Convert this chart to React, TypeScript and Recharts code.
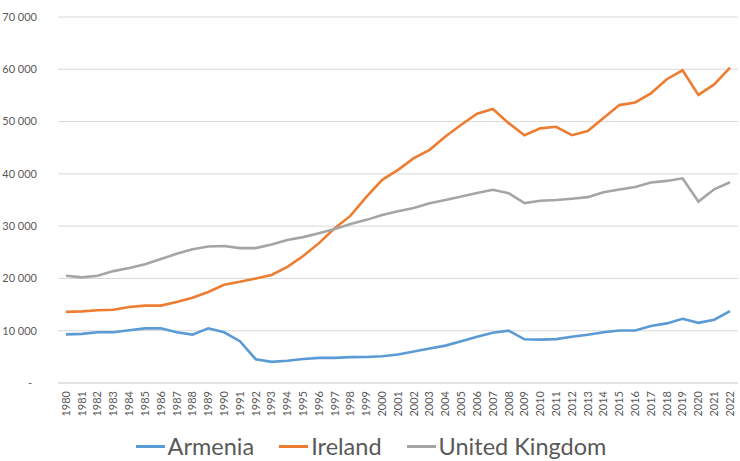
import * as React from "react";
import { CartesianGrid, Legend, Line, LineChart, XAxis, YAxis } from "recharts";

const years = [
  "1980", "1981", "1982", "1983", "1984", "1985", "1986", "1987", "1988", "1989",
  "1990", "1991", "1992", "1993", "1994", "1995", "1996", "1997", "1998", "1999",
  "2000", "2001", "2002", "2003", "2004", "2005", "2006", "2007", "2008", "2009",
  "2010", "2011", "2012", "2013", "2014", "2015", "2016", "2017", "2018", "2019",
  "2020", "2021", "2022",
];

const armenia = [
  9300, 9400, 9700, 9700, 10100, 10450, 10450, 9700, 9250, 10450,
  9700, 8000, 4550, 4050, 4250, 4600, 4800, 4800, 4950, 4970,
  5130, 5440, 6010, 6580, 7150, 7980, 8860, 9620, 10000, 8360,
  8300, 8400, 8860, 9230, 9700, 10050, 10050, 10900, 11400, 12280,
  11500, 12100, 13750,
];

const ireland = [
  13600, 13700, 13900, 14000, 14550, 14800, 14800, 15500, 16300, 17400,
  18800, 19350, 20000, 20650, 22200, 24300, 26750, 29600, 32000, 35600,
  38850, 40760, 43000, 44600, 47150, 49400, 51500, 52400, 49700, 47400,
  48700, 49000, 47400, 48200, 50700, 53150, 53650, 55400, 58100, 59800,
  55100, 57100, 60300,
];

const unitedKingdom = [
  20500, 20200, 20500, 21400, 22000, 22700, 23700, 24700, 25600, 26100,
  26200, 25800, 25800, 26500, 27350, 27900, 28650, 29450, 30400, 31200,
  32150, 32850, 33450, 34400, 35000, 35650, 36350, 36950, 36300, 34400,
  34850, 35000, 35250, 35550, 36500, 37000, 37500, 38350, 38650, 39150,
  34700, 37050, 38400,
];

const yTicks = [0, 10000, 20000, 30000, 40000, 50000, 60000, 70000];

const data = years.map((year, i) => ({
  year,
  Armenia: armenia[i],
  Ireland: ireland[i],
  "United Kingdom": unitedKingdom[i],
}));

const FONT = "Lato, 'Liberation Sans', sans-serif";
const TEXT = "#595959";

function YTick({ x, y, payload }: any) {
  const v = payload.value as number;
  if (v === 0) {
    return (
      <text x={x - 5} y={y} dy="0.35em" textAnchor="end" fill={TEXT} fontSize={11} fontFamily={FONT}>
        -
      </text>
    );
  }
  const label = `${Math.floor(v / 1000)} 000`;
  return (
    <text x={x} y={y} dy="0.35em" textAnchor="end" fill={TEXT} fontSize={11} fontFamily={FONT}>
      {label}
    </text>
  );
}

function XTick({ x, y, payload }: any) {
  return (
    <text
      x={x}
      y={y}
      transform={`rotate(-90, ${x}, ${y})`}
      textAnchor="end"
      dy="0.35em"
      fill={TEXT}
      fontSize={11}
      fontFamily={FONT}
    >
      {payload.value}
    </text>
  );
}

function LegendContent({ payload }: any) {
  return (
    <div
      style={{
        display: "flex",
        justifyContent: "center",
        gap: 25,
        paddingTop: 8,
        paddingLeft: 4,
        fontFamily: FONT,
        fontSize: 23.5,
        lineHeight: "30px",
        color: TEXT,
      }}
    >
      {(payload || []).map((p: any) => (
        <div key={p.value} style={{ display: "flex", alignItems: "center" }}>
          <span style={{ display: "inline-block", width: 29, height: 3, background: p.color, marginRight: 3 }} />
          <span>{p.value}</span>
        </div>
      ))}
    </div>
  );
}

export default function App() {
  return (
    <div style={{ position: "absolute", left: 0, top: 0, width: 740, height: 461, background: "#fff" }}>
      <LineChart width={740} height={461} data={data} margin={{ top: 17, right: 2, left: 0, bottom: 0 }}>
        <CartesianGrid vertical={false} stroke="#d9d9d9" strokeWidth={1} />
        <XAxis
          dataKey="year"
          interval={0}
          height={40}
          padding={{ left: 8, right: 8 }}
          tick={<XTick />}
          tickLine={false}
          axisLine={{ stroke: "#d9d9d9" }}
          tickMargin={2}
        />
        <YAxis
          width={58}
          domain={[0, 70000]}
          ticks={yTicks}
          tick={<YTick />}
          tickLine={false}
          axisLine={false}
          tickMargin={15}
        />
        <Legend verticalAlign="bottom" content={<LegendContent />} />
        <Line
          type="linear"
          dataKey="Armenia"
          stroke="#5b9bd5"
          strokeWidth={2.6}
          dot={false}
          isAnimationActive={false}
        />
        <Line
          type="linear"
          dataKey="Ireland"
          stroke="#ed7d31"
          strokeWidth={2.6}
          dot={false}
          isAnimationActive={false}
        />
        <Line
          type="linear"
          dataKey="United Kingdom"
          stroke="#a5a5a5"
          strokeWidth={2.6}
          dot={false}
          isAnimationActive={false}
        />
      </LineChart>
    </div>
  );
}
